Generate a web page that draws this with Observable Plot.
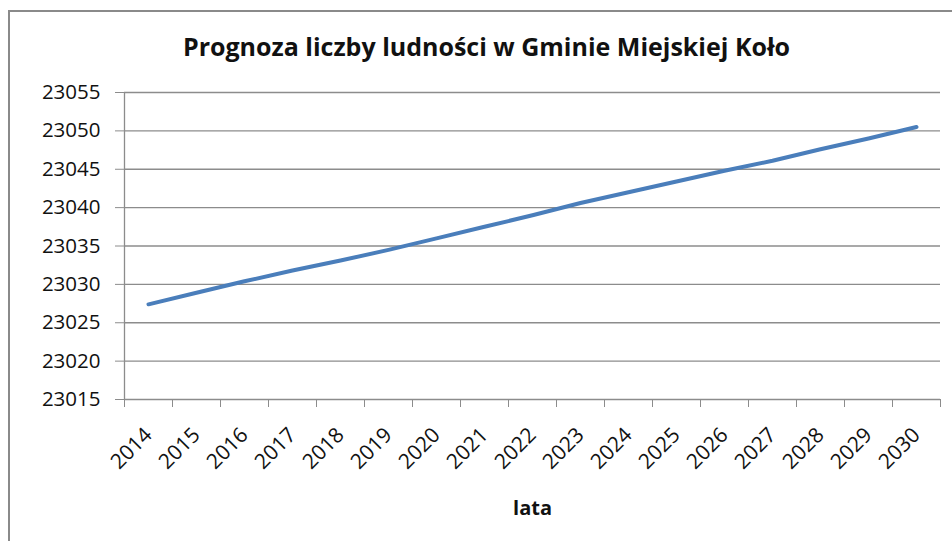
<!DOCTYPE html>
<html>
<head>
<meta charset="utf-8">
<script src="https://cdn.jsdelivr.net/npm/d3@7"></script>
<script src="https://cdn.jsdelivr.net/npm/@observablehq/plot@0.6"></script>
<style>
  html, body { margin: 0; padding: 0; background: #fff; }
  #wrap { position: relative; width: 952px; height: 541px; overflow: hidden; background: #fff; }
  #frame { position: absolute; left: 8px; top: 10px; width: 1000px; height: 600px;
           border-left: 2px solid #8a8a8a; border-top: 2px solid #8a8a8a; pointer-events: none; }
  #chart { position: absolute; left: 0; top: 0; }
</style>
</head>
<body>
<div id="wrap"><div id="chart"></div><div id="frame"></div></div>
<script>
const title = "Prognoza liczby ludności w Gminie Miejskiej Koło";
const xLabel = "lata";
const years = [2014, 2015, 2016, 2017, 2018, 2019, 2020, 2021, 2022, 2023, 2024, 2025, 2026, 2027, 2028, 2029, 2030];
const population = [23027.4, 23028.9, 23030.4, 23031.8, 23033.1, 23034.5, 23036.0, 23037.5, 23039.0, 23040.6, 23042.0, 23043.4, 23044.8, 23046.1, 23047.6, 23049.0, 23050.5];
const yTicks = [23015, 23020, 23025, 23030, 23035, 23040, 23045, 23050, 23055];

const data = years.map((y, i) => ({year: y, value: population[i]}));
const bounds = [years[0] - 0.5, ...years.map(y => y + 0.5)];
const font = "'Open Sans', sans-serif";

const chart = Plot.plot({
  width: 952,
  height: 541,
  marginLeft: 124,
  marginRight: 12,
  marginTop: 92,
  marginBottom: 142,
  style: {fontFamily: font, fontSize: "20px", color: "#000", background: "transparent"},
  x: {type: "linear", domain: [bounds[0], bounds[bounds.length - 1]]},
  y: {domain: [yTicks[0], yTicks[yTicks.length - 1]]},
  marks: [
    Plot.gridY(yTicks, {stroke: "#8c8c8c", strokeOpacity: 1, strokeWidth: 1.3}),
    Plot.ruleX([bounds[0]], {stroke: "#8c8c8c", strokeWidth: 1.3}),
    Plot.axisY(yTicks, {tickSize: 9, tickPadding: 15, stroke: "#8c8c8c", fontSize: 20.5, fill: "#111", label: null, tickFormat: d => String(d)}),
    Plot.axisX(bounds, {tickSize: 8, stroke: "#8c8c8c", text: null, label: null}),
    Plot.axisX(years, {tickSize: 0, tickPadding: 32, tickRotate: -45, fontSize: 21, fill: "#111", label: null, tickFormat: d => String(d)}),
    Plot.line(data, {x: "year", y: "value", stroke: "#4a7ebb", strokeWidth: 4, strokeLinecap: "round", strokeLinejoin: "round"}),
    Plot.text([title], {frameAnchor: "top", dx: -46, dy: -45, fontSize: 25, fontWeight: "bold", fill: "#111", lineAnchor: "middle"}),
    Plot.text([xLabel], {frameAnchor: "bottom", dy: 109, fontSize: 20, fontWeight: "bold", fill: "#111", lineAnchor: "middle"})
  ]
});
document.getElementById("chart").appendChild(chart);
</script>
</body>
</html>
